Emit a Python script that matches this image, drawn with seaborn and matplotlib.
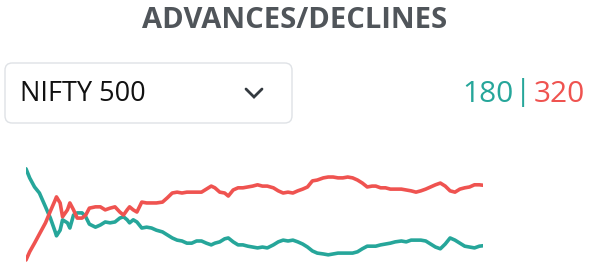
import matplotlib
matplotlib.use("Agg")
import matplotlib.pyplot as plt
from matplotlib.patches import FancyBboxPatch
from matplotlib.lines import Line2D
import seaborn as sns
import pandas as pd

# ---- data ----
title = "ADVANCES/DECLINES"
index_name = "NIFTY 500"
adv_total = 180
dec_total = 320

minutes = [0, 3, 7, 11, 16, 20, 24, 25, 28, 30, 34, 36, 39, 42, 46, 49, 52, 57, 61, 65,
           69, 73, 77, 80, 83, 85, 88, 91, 95, 99, 103, 107, 112, 116, 120, 124, 128, 132,
           136, 140, 144, 148, 152, 155, 159, 163, 166, 170, 174, 178, 182, 186, 190, 194,
           198, 203, 207, 211, 215, 219, 223, 227, 231, 235, 239, 244, 248, 252, 256, 260,
           264, 268, 272, 276, 280, 284, 287, 291, 295, 299, 303, 308, 312, 316, 320, 324,
           328, 332, 336, 340, 344, 348, 352, 356, 360, 364, 368, 372, 375]

advances = [358, 337, 316, 302, 270, 244, 212, 203, 216, 240, 233, 221, 251, 256, 256, 247,
            230, 223, 228, 235, 233, 235, 244, 247, 240, 233, 240, 235, 221, 223, 221, 216,
            212, 205, 198, 193, 191, 186, 186, 191, 191, 186, 182, 186, 189, 196, 198, 189,
            182, 182, 179, 177, 175, 177, 175, 182, 189, 193, 191, 193, 189, 184, 177, 168,
            163, 161, 159, 161, 163, 163, 163, 163, 166, 173, 179, 179, 179, 182, 184, 186,
            189, 191, 189, 193, 193, 193, 191, 184, 177, 173, 184, 198, 193, 186, 179, 177,
            175, 179, 180]

declines = [147, 166, 186, 207, 233, 260, 286, 293, 279, 247, 263, 279, 263, 244, 244, 251,
            267, 270, 270, 263, 267, 270, 258, 251, 263, 270, 263, 258, 281, 279, 279, 279,
            281, 291, 302, 304, 302, 304, 304, 304, 304, 311, 318, 314, 304, 302, 295, 309,
            314, 314, 316, 318, 321, 318, 318, 314, 307, 302, 304, 302, 307, 311, 316, 330,
            332, 337, 339, 339, 337, 337, 339, 337, 332, 325, 316, 318, 318, 314, 314, 311,
            311, 311, 309, 307, 304, 307, 311, 316, 321, 325, 318, 307, 304, 311, 314, 316,
            321, 321, 320]

TEAL = "#26a69a"
RED = "#ef5350"

df = pd.DataFrame({
    "minute": minutes * 2,
    "count": advances + declines,
    "side": ["Advances"] * len(minutes) + ["Declines"] * len(minutes),
})

sns.set_theme(style="white")
plt.rcParams["font.family"] = ["Open Sans", "DejaVu Sans"]

W, H = 602, 276
fig = plt.figure(figsize=(W / 100, H / 100), dpi=100)
fig.patch.set_facecolor("white")

def fx(px):
    return px / W

def fy(py):
    return 1 - py / H

# title
fig.text(fx(295), fy(21), title, ha="center", va="center", fontsize=21,
         fontweight="bold", color="#50555a")

# dropdown box
box = FancyBboxPatch((fx(5), fy(123)), fx(287), 60 / H,
                     boxstyle="round,pad=0,rounding_size=0.012",
                     transform=fig.transFigure, facecolor="white",
                     edgecolor="#dfe2e6", linewidth=1.0, mutation_aspect=W / H)
fig.patches.append(box)
fig.text(fx(20), fy(94), index_name, ha="left", va="center", fontsize=19.5,
         color="#111111")
# chevron
fig.add_artist(Line2D([fx(246), fx(254), fx(262)], [fy(89), fy(97), fy(89)],
                      transform=fig.transFigure, color="#343a40", linewidth=2.0,
                      solid_capstyle="round", solid_joinstyle="miter"))

# advances | declines counts
NUM_FS = 21.5
fig.text(fx(585), fy(94), str(dec_total), ha="right", va="center",
         fontsize=NUM_FS, color=RED)
fig.text(fx(523.5), fy(93), "|", ha="center", va="center",
         fontsize=NUM_FS, color=TEAL)
fig.text(fx(514), fy(94), str(adv_total), ha="right", va="center",
         fontsize=NUM_FS, color=TEAL)

# chart
ax = fig.add_axes([fx(26), fy(270), fx(483) - fx(26), 120 / H])
sns.lineplot(data=df, x="minute", y="count", hue="side",
             palette={"Advances": TEAL, "Declines": RED},
             linewidth=2.6, ax=ax, legend=False)
ax.set_xlim(0, 375)
ax.set_ylim(123.9, 401.5)
ax.axis("off")

fig.savefig("out.png", dpi=100, facecolor="white")
